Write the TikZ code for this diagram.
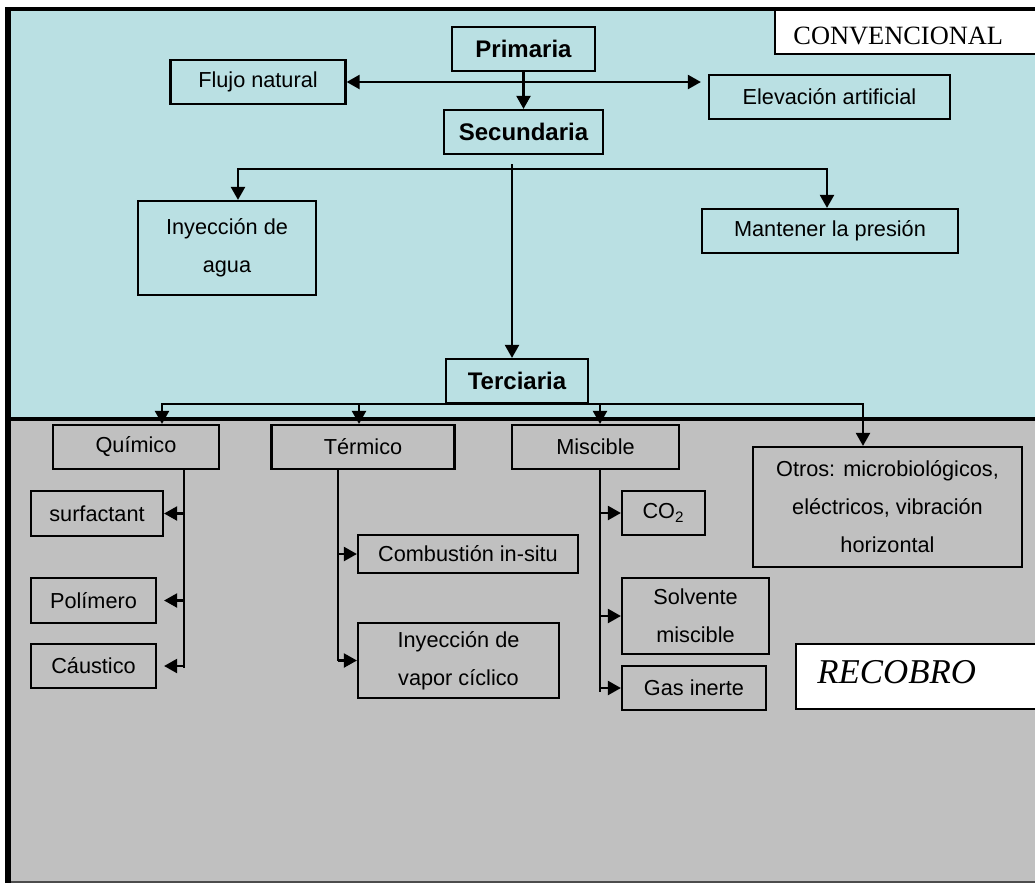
\documentclass[tikz,border=0pt]{standalone}
\usepackage{fontspec}
\setsansfont{Liberation Sans}
\newfontfamily\serifrot{Liberation Serif}
\usetikzlibrary{arrows.meta}
\definecolor{azul}{RGB}{186,224,227}
\definecolor{gris}{RGB}{192,192,192}
\tikzset{
  caja/.style={draw, line width=1.1pt, inner sep=0pt, align=center,
    font=\sffamily\fontsize{10.85}{19}\selectfont},
  cajab/.style={caja, font=\sffamily\bfseries\fontsize{12}{14}\selectfont},
  linea/.style={line width=1.1pt},
  flecha/.style={linea, ->},
  rotulo/.style={inner sep=0pt, anchor=base west}
}
\begin{document}
\begin{tikzpicture}[x=0.5pt, y=-0.5pt, >={Triangle[length=6.5pt,width=7pt]}]
    \useasboundingbox (0,0) rectangle (1035,885);
    \fill[azul] (8,9) rectangle (1035,419);
    \fill[gris] (8,419) rectangle (1035,882);
    \draw[line width=2pt] (8,418.5) -- (1035,418.5);
    \draw[line width=0.75pt, black!70] (8,882) -- (1035,882);
    \draw[line width=1pt, fill=white] (775,9) rectangle (1045,54);
    \draw[line width=1pt, fill=white] (796,644) rectangle (1045,709);
    \draw[line width=2pt] (8,9) -- (1035,9);
    \draw[line width=3pt] (8,7) -- (8,883);
    \node [rotulo, font=\serifrot\fontsize{13.2}{15}\selectfont] (conv) at (793,44) {CONVENCIONAL};
    \node [rotulo, font=\serifrot\itshape\fontsize{17.4}{19}\selectfont] (recobro) at (817,683) {RECOBRO};

    \node [cajab, minimum width=71.5pt, minimum height=22pt] (prim) at (523.5,49) {Primaria};
    \node [caja, minimum width=87.5pt, minimum height=22pt] (flujo) at (258,82) {Flujo natural};
    \node [caja, minimum width=120.5pt, minimum height=22pt] (elev) at (829.5,97) {Elevación artificial};
    \node [cajab, minimum width=79.5pt, minimum height=22pt] (secu) at (523.5,132) {Secundaria};
    \node [caja, minimum width=89pt, minimum height=47pt] (agua) at (227,248) {Inyección de\\agua};
    \node [caja, minimum width=128pt, minimum height=22pt] (mant) at (830,231) {Mantener la presión};
    \node [cajab, minimum width=71pt, minimum height=22pt] (terc) at (517,381) {Terciaria};
    \node [caja, minimum width=83pt, minimum height=22pt] (quim) at (136,447) {Químico};
    \node [caja, minimum width=91.5pt, minimum height=22pt] (term) at (363,447) {Térmico};
    \node [caja, minimum width=83.5pt, minimum height=22pt] (misc) at (595.5,447) {Miscible};
    \node [caja, minimum width=134.5pt, minimum height=60pt] (otros) at (887.5,507) {Otros: microbiológicos,\\eléctricos, vibración\\horizontal};
    \node [caja, minimum width=66pt, minimum height=22.5pt] (surf) at (97,513.5) {surfactant};
    \node [caja, minimum width=62.5pt, minimum height=22.5pt] (poli) at (93.5,600.5) {Polímero};
    \node [caja, minimum width=62.5pt, minimum height=22pt] (caus) at (93.5,666) {Cáustico};
    \node [caja, minimum width=110pt, minimum height=19pt] (comb) at (468,554) {Combustión in-situ};
    \node [caja, minimum width=100.5pt, minimum height=37.5pt] (vapor) at (458.5,660.5) {Inyección de\\vapor cíclico};
    \node [caja, minimum width=41.5pt, minimum height=22pt] (co2) at (663.5,513) {CO\textsubscript{2}};
    \node [caja, minimum width=73.5pt, minimum height=38pt] (solv) at (695.5,616) {Solvente\\miscible};
    \node [caja, minimum width=72pt, minimum height=22pt] (gas) at (694,688) {Gas inerte};

    \draw[flecha] (prim.south) -- (secu.north);
    \draw[linea, <->, shorten >=3.5pt] (flujo.east) -- (flujo.east -| elev.west);

    \coordinate (s1) at ([xshift=-5.75pt,yshift=-4.5pt]secu.south);
    \coordinate (s2) at ([yshift=-2.5pt]s1);
    \draw[flecha] (s1) -- (s1 |- terc.north);
    \draw[flecha] (s2) -| ([xshift=5.5pt]agua.north);
    \draw[flecha] (s2) -| ([xshift=-1.5pt]mant.north);

    \draw[flecha] (terc.south) -| ([xshift=13pt]quim.north);
    \draw[flecha] (terc.south) -| ([xshift=-2pt]term.north);
    \draw[flecha] (terc.south) -| ([xshift=2.25pt]misc.north);
    \draw[flecha] (terc.south) -| ([xshift=-12.25pt]otros.north);

    \coordinate (qs) at ([xshift=24pt]quim.south);
    \draw[linea] (qs) -- ([yshift=-1pt]qs |- caus.east);
    \foreach \n/\s in {surf/0pt, poli/3.5pt, caus/3.5pt}
      \draw[flecha, shorten >=\s] (qs |- \n.east) -- (\n.east);

    \coordinate (ts) at ([xshift=-12.5pt]term.south);
    \draw[linea] (ts) -- (ts |- vapor.west);
    \foreach \n in {comb, vapor}
      \draw[flecha] (ts |- \n.west) -- (\n.west);

    \coordinate (ms) at ([xshift=2.25pt]misc.south);
    \draw[linea] (ms) -- ([yshift=-2pt]ms |- gas.west);
    \foreach \n in {co2, solv, gas}
      \draw[flecha] (ms |- \n.west) -- (\n.west);
\end{tikzpicture}
\end{document}
